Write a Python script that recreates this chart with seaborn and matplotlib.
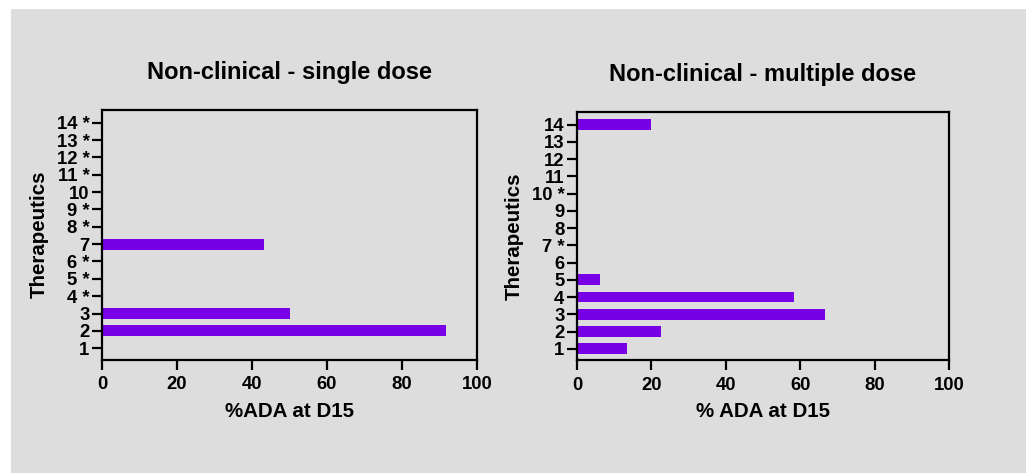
import matplotlib
matplotlib.use("Agg")
import matplotlib.pyplot as plt
from matplotlib.patches import Rectangle
import pandas as pd
import seaborn as sns

# Therapeutic IDs and %ADA at day 15
therapeutics = list(range(1, 15))
single_dose = [0, 91.7, 50.0, 0, 0, 0, 43.3, 0, 0, 0, 0, 0, 0, 0]
multiple_dose = [13.5, 22.7, 66.7, 58.3, 6.3, 0, 0, 0, 0, 0, 0, 0, 0, 20.0]

# IDs flagged with an asterisk on each panel
single_flagged = [4, 5, 6, 8, 9, 11, 12, 13, 14]
multiple_flagged = [7, 10]

x_ticks = [0, 20, 40, 60, 80, 100]

BG = "#dddddd"
BAR = "#7800e6"

sns.set_theme(style="white")
plt.rcParams["font.family"] = ["Liberation Sans", "DejaVu Sans"]
plt.rcParams["font.weight"] = "bold"
plt.rcParams["text.color"] = "black"
plt.rcParams["axes.labelcolor"] = "black"
plt.rcParams["xtick.color"] = "black"
plt.rcParams["ytick.color"] = "black"

fig = plt.figure(figsize=(10.26, 4.73), dpi=100, facecolor="white")
fig.patches.append(Rectangle((11 / 1026, 0), 1 - 11 / 1026, 1 - 9 / 473,
                             transform=fig.transFigure, facecolor=BG,
                             edgecolor="none", zorder=-10))

ax1 = fig.add_axes([102 / 1026, (473 - 359.5) / 473, 375 / 1026, 249.5 / 473])
ax2 = fig.add_axes([577 / 1026, (473 - 360) / 473, 372 / 1026, 248 / 473])


def draw(ax, values, flagged, title, xlabel):
    order = [str(t) for t in reversed(therapeutics)]
    df = pd.DataFrame({"id": [str(t) for t in therapeutics], "ada": values})
    sns.barplot(data=df, x="ada", y="id", order=order, orient="h",
                color=BAR, saturation=1, width=0.63, linewidth=0, ax=ax)
    ax.set_facecolor(BG)
    ax.set_xlim(0, 100)
    ax.set_ylim(13.65, -0.73)
    ax.set_xticks(x_ticks)
    ax.set_xticklabels([str(v) for v in x_ticks], fontsize=13.3,
                       fontweight="bold", color="black")
    ax.set_yticks(range(len(order)))
    ax.set_yticklabels([f"{t} *" if int(t) in flagged else t for t in order],
                       fontsize=13.3, fontweight="bold", color="black")
    ax.tick_params(axis="both", direction="out", length=7, width=1.6,
                   color="black", left=True, bottom=True)
    ax.tick_params(axis="y", pad=2)
    ax.tick_params(axis="x", pad=5)
    for s in ax.spines.values():
        s.set_visible(True)
        s.set_color("black")
        s.set_linewidth(1.6)
    ax.set_title(title, fontsize=17, fontweight="bold", pad=22, color="black")
    ax.set_xlabel(xlabel, fontsize=14.8, fontweight="bold", labelpad=6,
                  color="black")
    ax.set_ylabel("Therapeutics", fontsize=14.8, fontweight="bold",
                  labelpad=6, color="black")


draw(ax1, single_dose, single_flagged, "Non-clinical - single dose", "%ADA at D15")
draw(ax2, multiple_dose, multiple_flagged, "Non-clinical - multiple dose", "% ADA at D15")

fig.savefig("out.png", dpi=100, facecolor=fig.get_facecolor())
